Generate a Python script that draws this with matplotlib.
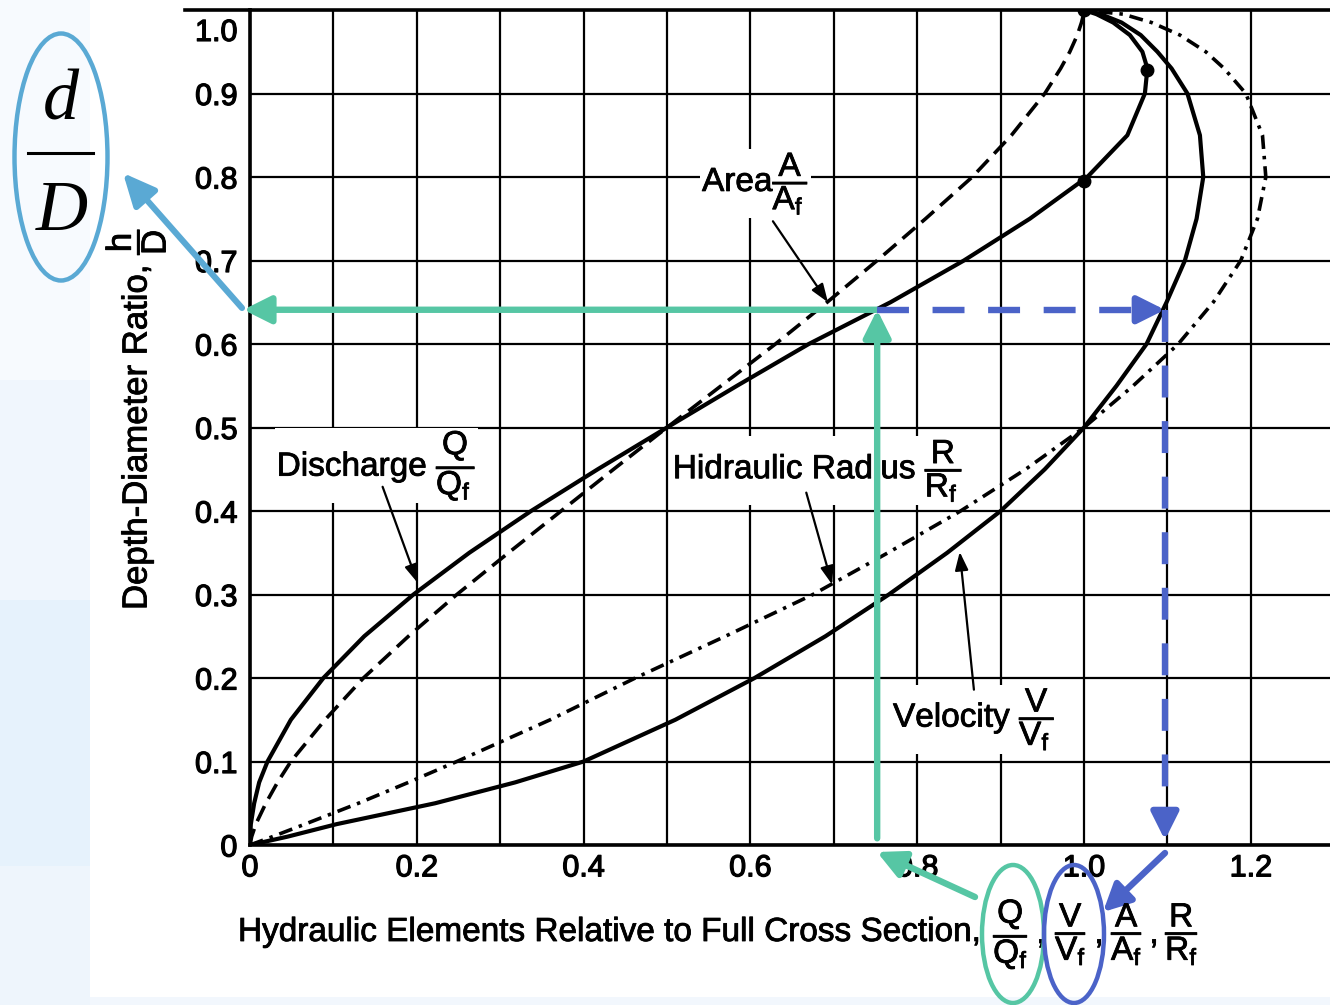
import numpy as np
import matplotlib
matplotlib.use("Agg")
import matplotlib.pyplot as plt
from matplotlib.patches import Ellipse, Rectangle
from matplotlib.lines import Line2D
from matplotlib import patheffects as pe
from matplotlib.transforms import ScaledTranslation

plt.rcParams['font.family'] = ['Liberation Sans', 'DejaVu Sans']
plt.rcParams['mathtext.fontset'] = 'custom'
plt.rcParams['mathtext.rm'] = 'Liberation Sans'
plt.rcParams['mathtext.it'] = 'Liberation Sans:italic'
plt.rcParams['mathtext.bf'] = 'Liberation Sans:bold'
plt.rcParams['lines.scale_dashes'] = False

# ---------------- data ----------------
depth_ratio = [0, 0.01, 0.025, 0.05, 0.075, 0.1, 0.15, 0.2, 0.25, 0.3, 0.35, 0.4, 0.45, 0.5,
               0.55, 0.6, 0.65, 0.7, 0.75, 0.8, 0.85, 0.9, 0.93, 0.95, 0.97, 0.985, 0.995, 1.0]
discharge = [0, 0.0002, 0.001, 0.005, 0.011, 0.021, 0.049, 0.088, 0.137, 0.196, 0.263, 0.337, 0.417, 0.5,
             0.584, 0.670, 0.768, 0.856, 0.935, 1.004, 1.052, 1.073, 1.076, 1.070, 1.055, 1.035, 1.015, 1.0]
velocity = [0, 0.045, 0.104, 0.222, 0.318, 0.4, 0.51, 0.605, 0.69, 0.766, 0.836, 0.9, 0.953, 1.0,
            1.039, 1.075, 1.099, 1.121, 1.135, 1.143, 1.139, 1.124, 1.105, 1.088, 1.068, 1.045, 1.02, 1.0]
area = [0, 0.002, 0.007, 0.019, 0.033, 0.049, 0.09, 0.136, 0.19, 0.248, 0.31, 0.373, 0.436, 0.5,
        0.565, 0.63, 0.692, 0.752, 0.81, 0.866, 0.913, 0.953, 0.972, 0.983, 0.992, 0.997, 0.9995, 1.0]
hyd_radius = [0, 0.027, 0.066, 0.13, 0.19, 0.248, 0.36, 0.462, 0.57, 0.675, 0.765, 0.852, 0.93, 1.0,
              1.059, 1.113, 1.155, 1.188, 1.208, 1.218, 1.214, 1.194, 1.168, 1.146, 1.115, 1.081, 1.047, 1.0]

marker_x = [1.0, 1.076, 1.0]
marker_y = [0.795, 0.928, 1.0]

x_ticks = [0, 0.2, 0.4, 0.6, 0.8, 1.0, 1.2]
x_tick_labels = ['0', '0.2', '0.4', '0.6', '0.8', '1.0', '1.2']
x_grid_minor = [0.1, 0.3, 0.5, 0.7, 0.9, 1.1]
y_ticks = [0, 0.1, 0.2, 0.3, 0.4, 0.5, 0.6, 0.7, 0.8, 0.9, 1.0]
y_tick_labels = ['0', '0.1', '0.2', '0.3', '0.4', '0.5', '0.6', '0.7', '0.8', '0.9', '1.0']

# worked example shown by the coloured arrows
example_discharge = 0.752
example_depth = 0.641
example_velocity = 1.097

GREEN = '#56C6A4'
BLUE = '#4B63C8'
LIGHT_BLUE = '#5AA9D4'

# ---------------- figure ----------------
W, H = 1330, 1005
fig = plt.figure(figsize=(W / 100, H / 100), dpi=100)
fig.patch.set_facecolor('#f2f7fd')


def fx(px):
    return px / W


def fy(py):
    return 1 - py / H


def band(x0, y0, x1, y1, c):
    fig.add_artist(Rectangle((fx(x0), fy(y1)), fx(x1) - fx(x0), fy(y0) - fy(y1),
                             transform=fig.transFigure, facecolor=c, edgecolor='none', zorder=-10))


band(0, 0, 90, 380, '#f7fafe')
band(0, 380, 90, 600, '#f0f6fd')
band(0, 600, 90, 866, '#e6f2fc')
band(0, 866, 90, 1005, '#eef5fc')
band(90, 0, 1330, 997, '#ffffff')

ax = fig.add_axes([fx(250), fy(845), fx(1330) - fx(250), fy(10) - fy(845)])
ax.set_xlim(0, 1080 / 834)
ax.set_ylim(0, 1.0)
ax.set_facecolor('white')

tick_stroke = [pe.withStroke(linewidth=0.9, foreground='black')]
ax.set_xticks(x_ticks)
ax.set_xticklabels(x_tick_labels)
ax.set_xticks(x_grid_minor, minor=True)
ax.set_yticks(y_ticks)
ax.set_yticklabels(y_tick_labels)
ax.tick_params(which='both', length=0)
ax.tick_params(axis='x', pad=6)
ax.tick_params(axis='y', pad=9)
for lbl in ax.get_xticklabels() + ax.get_yticklabels():
    lbl.set_fontfamily('Liberation Sans')
    lbl.set_fontsize(22)
    lbl.set_path_effects(tick_stroke)
ax.grid(True, which='both', color='black', lw=1.6)
ax.set_axisbelow(True)
for s in ['left', 'bottom', 'top']:
    ax.spines[s].set_linewidth(2.6)
ax.spines['right'].set_visible(False)
ax.plot([-0.078, 0], [1.0, 1.0], color='black', lw=2.6, clip_on=False)

# shift the top y tick label down, as in the original
t_top = ax.yaxis.get_major_ticks()[-1]
t_top.label1.set_transform(t_top.label1.get_transform() + ScaledTranslation(0, -14 / 72, fig.dpi_scale_trans))

# curves
ax.plot(discharge, depth_ratio, color='black', lw=3.0, zorder=3)
ax.plot(velocity, depth_ratio, color='black', lw=3.0, zorder=3)
ax.plot(area, depth_ratio, color='black', lw=2.6, dashes=(12, 6), zorder=3)
ax.plot(hyd_radius, depth_ratio, color='black', lw=2.6, dashes=(10, 5, 2.5, 5), zorder=3)
ax.plot(marker_x, marker_y, 'o', color='black', ms=9, zorder=4)

# curve labels
stroke = [pe.withStroke(linewidth=0.6, foreground='black')]
box = dict(boxstyle='square,pad=0.05', facecolor='white', edgecolor='none')
lab_kw = dict(fontsize=24, ha='left', va='baseline', bbox=box, zorder=5, path_effects=stroke)
ax.text(0.542, 0.783, r'Area$\dfrac{\mathrm{A}}{\mathrm{A_f}\,}$', **lab_kw)
ax.text(0.032, 0.442, r'Discharge $\dfrac{\mathrm{Q}}{\mathrm{Q_f}\,}$', **lab_kw)
ax.text(0.507, 0.439, r'Hidraulic Radius $\dfrac{\mathrm{R}}{\mathrm{R_f}\,}$', **lab_kw)
ax.text(0.771, 0.1415, r'Velocity $\dfrac{\mathrm{V}}{\mathrm{V_f}\,}$', **lab_kw)

arrow_kw = dict(arrowstyle='-|>,head_length=0.55,head_width=0.2', mutation_scale=20,
                color='black', lw=1.6, shrinkA=0, shrinkB=0)
ax.annotate('', xy=(0.693, 0.65), xytext=(0.627, 0.747), arrowprops=arrow_kw, zorder=5)
ax.annotate('', xy=(0.201, 0.314), xytext=(0.159, 0.429), arrowprops=arrow_kw, zorder=5)
ax.annotate('', xy=(0.698, 0.312), xytext=(0.667, 0.422), arrowprops=arrow_kw, zorder=5)
ax.annotate('', xy=(0.851, 0.351), xytext=(0.868, 0.186), arrowprops=arrow_kw, zorder=5)

# axis labels
fig.text(fx(238), fy(941), 'Hydraulic Elements Relative to Full Cross Section,', fontsize=24,
         ha='left', va='baseline', path_effects=stroke)
for cx, sym in [(1011, 'Q'), (1071, 'V'), (1127, 'A'), (1182, 'R')]:
    fig.text(fx(cx), fy(934), r'$\dfrac{\mathrm{%s}}{\mathrm{%s_f}}$' % (sym, sym), fontsize=24,
             ha='center', va='center', path_effects=stroke)
for cx in [1041, 1099, 1154]:
    fig.text(fx(cx), fy(943), ',', fontsize=24, ha='center', va='baseline', path_effects=stroke)

fig.text(fx(135), fy(610), r'Depth-Diameter Ratio, $\dfrac{\mathrm{h}}{\mathrm{D}}$', fontsize=25,
         rotation=90, ha='center', va='bottom', path_effects=stroke)

# d/D callout
fig.text(fx(61), fy(120), 'd', family='Liberation Serif', style='italic', fontsize=52,
         ha='center', va='baseline')
fig.add_artist(Line2D([fx(28), fx(93)], [fy(153), fy(153)], transform=fig.transFigure,
                      color='black', lw=2.2))
fig.text(fx(62), fy(230), 'D', family='Liberation Serif', style='italic', fontsize=52,
         ha='center', va='baseline')
fig.add_artist(Ellipse((fx(61), fy(157)), 93 / W, 247 / H, transform=fig.transFigure,
                       facecolor='none', edgecolor=LIGHT_BLUE, lw=3.2, zorder=6))

# worked example arrows
big_head = '-|>,head_length=1.1,head_width=0.55'
ax.annotate('', xy=(example_discharge, example_depth), xytext=(example_discharge, 0.008),
            arrowprops=dict(arrowstyle=big_head, mutation_scale=15, color=GREEN, lw=4.6,
                            shrinkA=0, shrinkB=0), annotation_clip=False, zorder=6)
ax.annotate('', xy=(-0.008, example_depth), xytext=(example_discharge, example_depth),
            arrowprops=dict(arrowstyle=big_head, mutation_scale=15, color=GREEN, lw=4.6,
                            shrinkA=0, shrinkB=0), annotation_clip=False, zorder=6)
ax.plot([example_discharge, example_velocity - 0.02], [example_depth, example_depth],
        color=BLUE, lw=4.6, dashes=(23, 17), solid_capstyle='butt', dash_capstyle='butt',
        clip_on=False, zorder=6)
ax.annotate('', xy=(example_velocity, example_depth), xytext=(example_velocity - 0.035, example_depth),
            arrowprops=dict(arrowstyle=big_head, mutation_scale=15, color=BLUE, lw=4.6,
                            shrinkA=0, shrinkB=0), annotation_clip=False, zorder=6)
ax.plot([example_velocity, example_velocity], [example_depth, 0.03],
        color=BLUE, lw=4.6, dashes=(23, 17), dash_capstyle='butt', clip_on=False, zorder=6)
ax.annotate('', xy=(example_velocity, 0.006), xytext=(example_velocity, 0.04),
            arrowprops=dict(arrowstyle=big_head, mutation_scale=15, color=BLUE, lw=4.6,
                            shrinkA=0, shrinkB=0), annotation_clip=False, zorder=6)

# pointer arrows in figure pixels
ax.annotate('', xy=(123, H - 173), xytext=(242, H - 308), xycoords='figure pixels',
            textcoords='figure pixels', annotation_clip=False, zorder=7,
            arrowprops=dict(arrowstyle='-|>,head_length=1.3,head_width=0.6', mutation_scale=15,
                            color=LIGHT_BLUE, lw=4.4, shrinkA=0, shrinkB=0))
ax.annotate('', xy=(877, H - 852), xytext=(975, H - 897), xycoords='figure pixels',
            textcoords='figure pixels', annotation_clip=False, zorder=7,
            arrowprops=dict(arrowstyle=big_head, mutation_scale=15, color=GREEN, lw=4.6,
                            shrinkA=0, shrinkB=0))
ax.annotate('', xy=(1103, H - 912), xytext=(1165, H - 853), xycoords='figure pixels',
            textcoords='figure pixels', annotation_clip=False, zorder=7,
            arrowprops=dict(arrowstyle=big_head, mutation_scale=15, color=BLUE, lw=4.6,
                            shrinkA=0, shrinkB=0))

fig.add_artist(Ellipse((fx(1013), fy(934)), 62 / W, 138 / H, transform=fig.transFigure,
                       facecolor='none', edgecolor=GREEN, lw=3.2, zorder=6))
fig.add_artist(Ellipse((fx(1074), fy(934)), 60 / W, 138 / H, transform=fig.transFigure,
                       facecolor='none', edgecolor=BLUE, lw=3.2, zorder=6))

fig.savefig('out.png', dpi=100, facecolor=fig.get_facecolor())
